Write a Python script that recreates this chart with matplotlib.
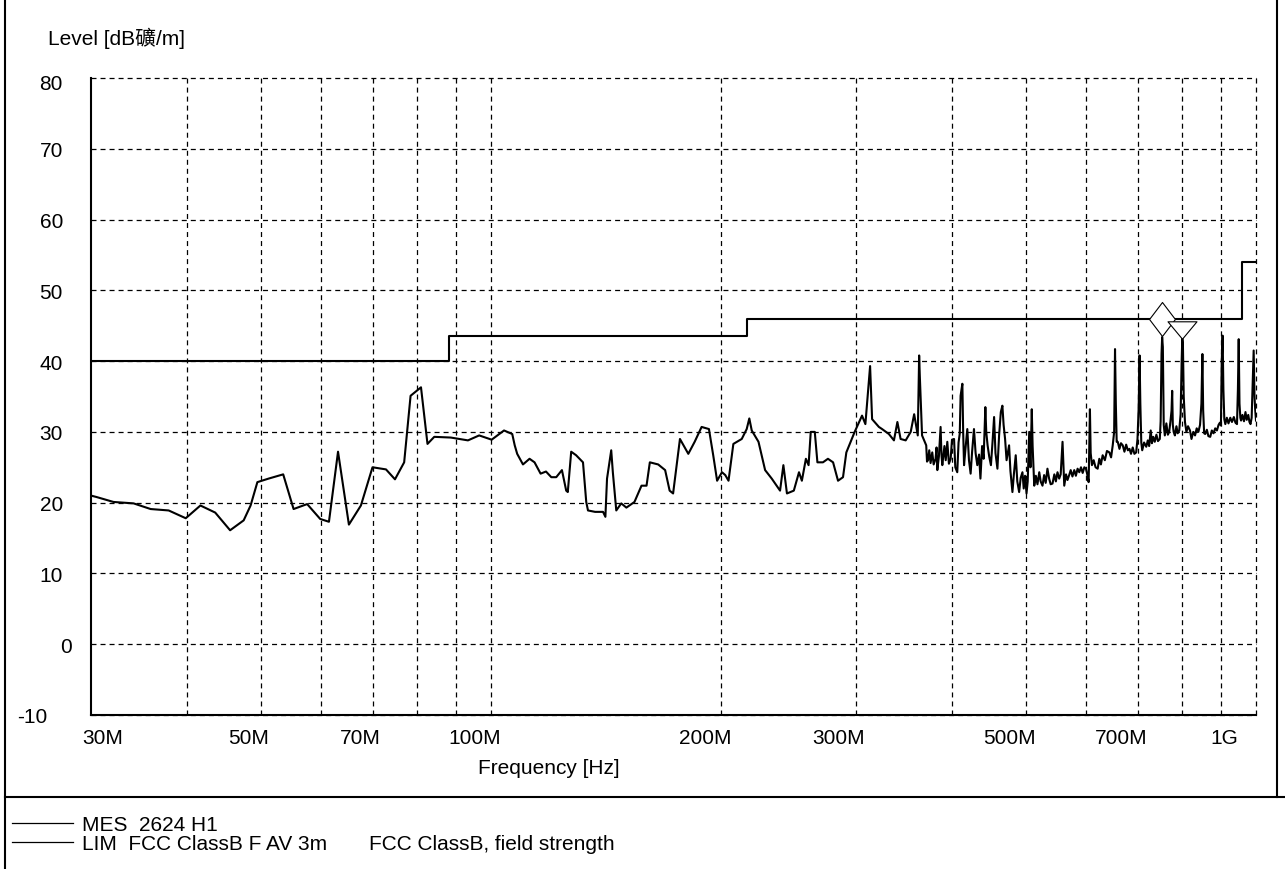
import matplotlib
matplotlib.use('Agg')
import matplotlib.pyplot as plt
from matplotlib.lines import Line2D
from matplotlib.path import Path
from matplotlib.ticker import NullLocator

plt.rcParams['font.family'] = ['Liberation Sans', 'Noto Sans CJK SC', 'DejaVu Sans']
plt.rcParams['lines.scale_dashes'] = False

meas_freq = [
    30.0, 30.5, 32.1, 34.1, 35.9, 37.9, 39.9, 41.7, 43.6, 45.6, 47.5, 48.5, 49.5,
    51.2, 53.5, 55.2, 57.5, 59.8, 61.4, 63.1, 65.2, 67.6, 70.0, 72.9, 74.9, 77.0,
    78.5, 81.0, 82.6, 84.3, 88.6, 93.3, 96.5, 100.2, 104.0, 106.6, 107.4, 108.2,
    110.1, 112.3, 114.0, 116.1, 118.0, 119.9, 121.7, 123.8, 125.4, 126.0, 127.3,
    129.2, 131.9, 133.2, 133.9, 136.8, 140.1, 141.1, 141.8, 143.6, 144.3, 145.8,
    148.0, 150.3, 154.0, 157.3, 159.7, 161.3, 165.4, 168.9, 171.2, 173.0, 176.6,
    181.1, 184.6, 188.5, 192.7, 195.2, 197.5, 200.4, 202.4, 204.4, 207.4, 212.7,
    215.9, 217.6, 219.2, 223.7, 228.2, 232.8, 238.7, 241.1, 243.7, 248.8, 252.7,
    254.9, 258.0, 260.1, 261.8, 265.0, 267.1, 271.6, 275.7, 280.0, 284.2, 288.5,
    291.4, 298.8, 305.5, 308.6, 313.0, 313.6, 314.9, 321.4, 324.5, 331.2, 336.3,
    339.8, 343.1, 348.4, 353.7, 357.4, 361.3, 362.8, 363.5, 366.0, 370.6, 371.5,
    372.6, 374.0, 375.5, 377.4, 379.0, 381.2, 382.3, 383.2, 385.0, 387.0, 388.0,
    389.0, 391.5, 393.0, 394.9, 396.8, 398.9, 400.5, 403.0, 404.5, 406.9, 408.5,
    410.0, 411.0, 413.2, 414.2, 415.3, 417.0, 419.4, 421.5, 423.6, 425.5, 427.9,
    430.0, 432.2, 434.5, 436.3, 438.5, 440.5, 442.8, 444.0, 445.8, 448.0, 450.3,
    452.5, 454.6, 456.5, 459.2, 461.5, 463.9, 466.1, 467.8, 469.9, 472.0, 475.6,
    477.5, 480.4, 482.5, 485.2, 487.5, 490.2, 492.5, 495.1, 497.0, 499.0, 501.2,
    503.0, 505.3, 507.2, 509.2, 510.5, 513.0, 515.5, 518.0, 520.8, 523.0, 525.9,
    528.5, 531.0, 533.8, 536.5, 539.0, 542.0, 545.0, 547.5, 550.2, 553.0, 555.5,
    558.6, 560.0, 561.5, 564.5, 567.0, 569.9, 572.5, 575.5, 578.7, 581.5, 584.5,
    587.5, 590.5, 593.5, 596.5, 599.4, 602.0, 604.3, 605.5, 606.6, 608.0, 610.3,
    613.5, 617.0, 620.9, 624.0, 627.0, 630.3, 634.5, 638.5, 643.2, 646.5, 649.7,
    652.5, 654.2, 655.8, 657.5, 659.6, 663.0, 666.0, 669.6, 673.0, 676.5, 680.0,
    683.3, 686.5, 690.0, 693.5, 697.2, 700.0, 702.5, 704.4, 706.0, 708.0, 710.0,
    714.0, 718.7, 722.0, 725.0, 728.4, 731.0, 734.0, 737.3, 741.0, 744.5, 748.6,
    750.5, 752.5, 753.9, 755.5, 757.5, 760.0, 763.5, 767.0, 770.0, 773.0, 775.5,
    777.0, 778.5, 780.5, 783.4, 787.0, 790.0, 793.7, 797.0, 799.5, 801.0, 802.5,
    804.5, 807.5, 811.0, 815.0, 819.8, 823.5, 828.0, 832.4, 836.5, 840.8, 845.0,
    848.5, 851.0, 853.0, 855.5, 858.2, 862.5, 866.5, 871.3, 875.5, 880.0, 884.5,
    889.0, 893.5, 897.0, 899.8, 902.0, 904.4, 906.5, 909.0, 911.8, 916.0, 920.5,
    925.5, 930.2, 935.5, 940.0, 944.4, 947.0, 949.3, 951.5, 954.0, 956.0, 960.0,
    964.5, 968.8, 972.5, 977.0, 980.5, 983.6, 987.0, 990.0, 993.0, 995.5, 997.5,
    1000.0,
]
meas_level = [
    21.0, 20.8, 20.1, 19.9, 19.1, 18.9, 17.8, 19.6, 18.6, 16.1, 17.5, 19.6, 22.9,
    23.4, 24.0, 19.1, 19.8, 17.7, 17.3, 27.2, 16.9, 19.6, 25.0, 24.7, 23.3, 25.7,
    35.1, 36.3, 28.3, 29.3, 29.2, 28.8, 29.5, 28.9, 30.2, 29.7, 28.1, 26.9,
    25.4, 26.2, 25.7, 24.1, 24.4, 23.6, 23.6, 24.6, 21.7, 21.5, 27.2,
    26.7, 25.7, 20.1, 18.9, 18.7, 18.7, 18.0, 23.4, 27.4, 24.3, 18.9,
    19.9, 19.3, 20.1, 22.4, 22.4, 25.7, 25.4, 24.6, 21.7, 21.3, 29.0,
    26.9, 28.6, 30.7, 30.4, 26.7, 23.1, 24.3, 23.9, 23.1, 28.3, 29.0,
    30.4, 31.9, 30.2, 28.6, 24.6, 23.4, 21.7, 25.3, 21.3, 21.7, 24.3,
    23.1, 26.2, 25.3, 30.0, 30.0, 25.7, 25.7, 26.2, 25.7, 23.1, 23.6,
    27.1, 30.0, 32.3, 31.1, 39.3, 37.0, 31.8, 30.7, 30.4, 29.7, 28.8,
    31.4, 29.0, 28.8, 30.0, 32.5, 29.5, 40.8, 38.0, 29.5, 28.1, 25.8,
    26.0, 27.4, 25.6, 27.1, 25.4, 26.2, 27.8, 24.6, 26.5, 30.7, 26.8,
    25.3, 28.0, 26.0, 28.6, 25.5, 26.2, 28.9, 29.0, 25.0, 24.3, 28.5,
    29.8, 35.1, 36.8, 30.0, 25.3, 27.5, 30.4, 26.0, 24.1, 27.2, 30.4,
    27.0, 25.3, 26.8, 23.4, 28.0, 26.2, 33.5, 30.0, 28.1, 26.5, 25.3,
    28.6, 32.1, 27.0, 24.8, 29.5, 32.8, 33.7, 31.0, 29.0, 26.0, 28.1,
    24.5, 21.5, 24.0, 26.7, 23.0, 21.5, 23.5, 24.3, 22.0, 23.8, 21.3,
    23.0, 30.0, 25.0, 33.2, 28.0, 22.4, 23.8, 22.6, 24.3, 23.0, 22.4,
    23.9, 22.8, 24.8, 23.4, 22.6, 22.7, 24.0, 23.0, 24.3, 23.4, 24.0,
    28.6, 25.5, 22.4, 24.0, 23.2, 23.9, 24.6, 23.7, 24.6, 23.8, 24.8,
    24.3, 25.0, 24.2, 25.0, 24.8, 23.9, 22.9, 28.0, 33.2, 27.0, 25.3,
    26.0, 25.0, 24.8, 26.2, 25.4, 26.7, 26.0, 27.3, 27.1, 26.4, 28.1,
    30.0, 41.7, 34.0, 28.6, 28.6, 27.6, 28.4, 28.1, 27.2, 28.2, 27.4,
    27.6, 26.9, 27.8, 26.9, 27.1, 29.0, 33.5, 40.8, 34.0, 28.5, 27.4,
    28.5, 27.9, 28.8, 28.0, 30.2, 28.4, 29.3, 28.6, 29.6, 28.7, 29.0,
    31.5, 41.0, 43.4, 42.0, 31.0, 29.5, 31.2, 29.6, 30.0, 31.5, 33.0,
    35.8, 31.0, 30.0, 29.5, 30.8, 29.8, 30.2, 32.5, 40.0, 43.2, 42.5,
    35.0, 31.4, 30.0, 30.8, 30.2, 29.0, 30.0, 29.5, 30.5, 30.0, 31.0,
    34.0, 41.0, 33.0, 29.8, 29.7, 30.3, 29.4, 29.3, 30.2, 29.8, 30.5,
    30.2, 31.0, 31.3, 30.9, 40.0, 43.6, 36.0, 31.8, 31.1, 32.0, 31.2,
    32.0, 31.4, 32.1, 31.3, 31.1, 36.0, 43.1, 34.0, 32.0, 31.6, 32.4,
    31.5, 32.8, 31.7, 32.4, 31.4, 31.1, 32.0, 37.0, 41.5, 35.0, 33.2,
    31.6,
]

# FCC class B limit line (step function)
lim_freq = [30, 88, 216, 960, 1000]
lim_level = [40, 43.5, 46, 54, 54]

# final measurement markers
qp_freq = [753.9]
qp_level = [46.0]
av_freq = [801.0]
av_level = [44.4]

grid_freq = [40, 50, 60, 70, 80, 90, 100, 200, 300, 400, 500, 600, 700, 800, 900, 1000]
xtick_freq = [30, 50, 70, 100, 200, 300, 500, 700, 1000]
xtick_text = ['30M', '50M', '70M', '100M', '200M', '300M', '500M', '700M', '1G']
ytick_level = [-10, 0, 10, 20, 30, 40, 50, 60, 70, 80]

# pixel nudges of the labels, as in the screenshot
xtick_shift = [12, -12, -12, -16, -16, -17, -16, -16, -32]
ytick_shift = [-16, 9, 0, 0, 0, 0, 0, 0, 0, 0]

W, H = 1285, 870
PT = 0.72  # points per pixel at dpi 100
FS = 15


def fx(px):
    return px / W


def fy(py):
    return 1 - py / H


fig = plt.figure(figsize=(W / 100, H / 100), dpi=100)
ax = fig.add_axes([fx(91), fy(716), fx(1256) - fx(91), fy(79) - fy(716)])
ax.set_xscale('log')
ax.set_xlim(30, 1000)
ax.set_ylim(-10, 80)
ax.set_xticks(grid_freq)
ax.set_xticklabels([])
ax.xaxis.set_minor_locator(NullLocator())
ax.set_yticks(ytick_level)
ax.set_yticklabels([])
ax.tick_params(length=0)
ax.grid(True, color='black', lw=0.9, linestyle=(0, (3.6, 2.9)))
for gl in ax.get_xgridlines() + ax.get_ygridlines():
    gl.set_clip_on(False)
ax.spines['top'].set_visible(False)
ax.spines['right'].set_visible(False)
for s in ['left', 'bottom']:
    ax.spines[s].set_linewidth(1.5)
    ax.spines[s].set_zorder(5)

ax.plot(meas_freq, meas_level, color='black', lw=1.5, zorder=3)
ax.plot(lim_freq, lim_level, color='black', lw=1.5, drawstyle='steps-post', zorder=3)

diamond = Path([(0, 1), (0.76, 0), (0, -1), (-0.76, 0), (0, 1)],
               [Path.MOVETO, Path.LINETO, Path.LINETO, Path.LINETO, Path.CLOSEPOLY])
tri_down = Path([(-1, 0.6), (1, 0.6), (0, -0.6), (-1, 0.6)],
                [Path.MOVETO, Path.LINETO, Path.LINETO, Path.CLOSEPOLY])
ax.plot(qp_freq, qp_level, linestyle='none', marker=diamond, markersize=34 * PT,
        markerfacecolor='white', markeredgecolor='black', markeredgewidth=0.8, zorder=4)
ax.plot(av_freq, av_level, linestyle='none', marker=tri_down, markersize=29 * PT,
        markerfacecolor='white', markeredgecolor='black', markeredgewidth=0.8, zorder=4)

for f, t, dx in zip(xtick_freq, xtick_text, xtick_shift):
    ax.annotate(t, xy=(f, 0), xycoords=('data', 'axes fraction'),
                xytext=(dx * PT, -21 * PT), textcoords='offset points',
                ha='center', va='center_baseline', fontsize=FS, annotation_clip=False)
for v, dx in zip(ytick_level, ytick_shift):
    dy = -4 if v == 80 else 0
    ax.annotate(str(v), xy=(0, v), xycoords=('axes fraction', 'data'),
                xytext=((63 - 91 + dx) * PT, dy * PT), textcoords='offset points',
                ha='right', va='center_baseline', fontsize=FS, annotation_clip=False)

fig.text(fx(48), fy(36), 'Level [dB礦/m]', ha='left', va='center_baseline', fontsize=FS)
fig.text(fx(478), fy(767), 'Frequency [Hz]', ha='left', va='center_baseline', fontsize=FS)

# outer frame of the report
fig.add_artist(Line2D([fx(5), fx(5)], [0, 1], color='black', lw=1.5))
fig.add_artist(Line2D([fx(1277), fx(1277)], [fy(798), 1], color='black', lw=1.5))
fig.add_artist(Line2D([fx(5), 1], [fy(798), fy(798)], color='black', lw=1.5))

# legend block
fig.add_artist(Line2D([fx(12), fx(73)], [fy(824), fy(824)], color='black', lw=0.9))
fig.add_artist(Line2D([fx(12), fx(73)], [fy(843), fy(843)], color='black', lw=0.9))
fig.text(fx(82), fy(824), 'MES  2624 H1', ha='left', va='center_baseline', fontsize=FS)
fig.text(fx(82), fy(843), 'LIM  FCC ClassB F AV 3m', ha='left', va='center_baseline', fontsize=FS)
fig.text(fx(369), fy(843), 'FCC ClassB, field strength', ha='left', va='center_baseline', fontsize=FS)

fig.savefig('out.png', dpi=100, facecolor='white')
